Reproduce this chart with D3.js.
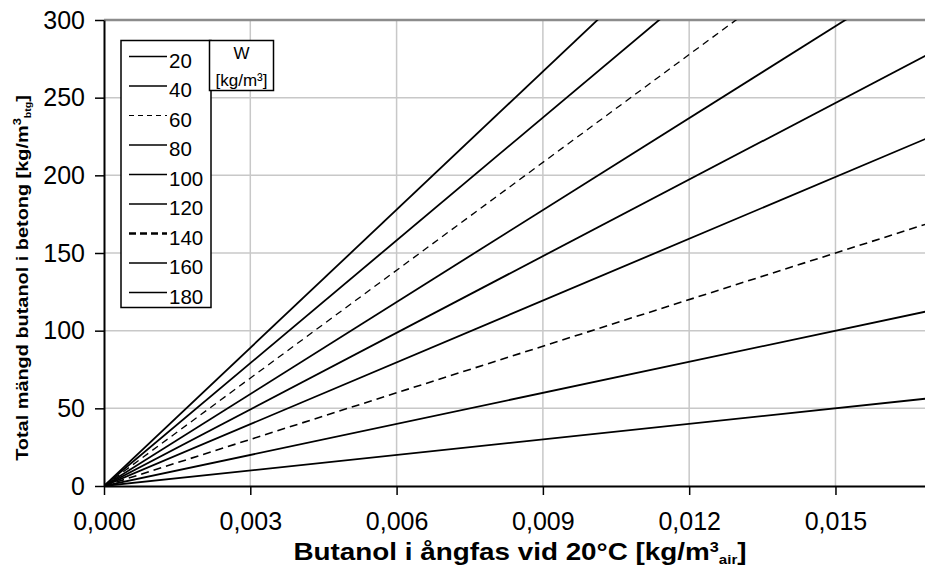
<!DOCTYPE html>
<html>
<head>
<meta charset="utf-8">
<script src="https://cdn.jsdelivr.net/npm/d3@7"></script>
<style>
  body { margin: 0; background: #fff; }
  svg { font-family: Arial, "Liberation Sans", sans-serif; }
</style>
</head>
<body>
<div id="chart"></div>
<script>
// x positions where each series is read (kg/m3 air)
const butanolAir = [0, 0.017];
// water content W, kg/m3
const waterContents = [20, 40, 60, 80, 100, 120, 140, 160, 180];
// total butanol in concrete at each x position, one row per W
const butanolTotal = [
    [0, 56.7],
    [0, 113.3],
    [0, 170.0],
    [0, 225.5],
    [0, 279.5],
    [0, 335.5],
    [0, 393.5],
    [0, 448.0],
    [0, 504.0]
];
const xTicks = [0, 0.003, 0.006, 0.009, 0.012, 0.015];
const yTicks = [0, 50, 100, 150, 200, 250, 300];

const width = 925, height = 569;
const margin = { top: 20, left: 104, bottom: 486 };

const svg = d3.select("#chart").append("svg")
    .attr("width", width)
    .attr("height", height);

const x = d3.scaleLinear().domain([0, 0.017]).range([margin.left, 933]);
const y = d3.scaleLinear().domain([0, 300]).range([margin.bottom, margin.top]);

const locale = d3.formatLocale({ decimal: ",", thousands: " ", grouping: [3], currency: ["", ""] });
const fmt = locale.format(".3f");

// grid
svg.append("g")
    .selectAll("line.hgrid")
    .data(yTicks.filter(d => d > 0 && d < 300))
    .enter().append("line")
    .attr("x1", margin.left).attr("x2", width)
    .attr("y1", d => y(d)).attr("y2", d => y(d))
    .attr("stroke", "#c8c8c8").attr("stroke-width", 1.5);

svg.append("g")
    .selectAll("line.vgrid")
    .data(xTicks.filter(d => d > 0))
    .enter().append("line")
    .attr("x1", d => x(d)).attr("x2", d => x(d))
    .attr("y1", margin.top).attr("y2", margin.bottom)
    .attr("stroke", "#c8c8c8").attr("stroke-width", 1.5);

svg.append("line")
    .attr("x1", margin.left).attr("x2", width)
    .attr("y1", y(300)).attr("y2", y(300))
    .attr("stroke", "#8c8c8c").attr("stroke-width", 2.5);

// series
svg.append("clipPath").attr("id", "plot-clip")
    .append("rect")
    .attr("x", margin.left).attr("y", margin.top)
    .attr("width", width - margin.left).attr("height", margin.bottom - margin.top);

const dashFor = w => w === 60 ? "5,4" : (w === 140 ? "7,4" : null);

const line = d3.line()
    .x((d, i) => x(butanolAir[i]))
    .y(d => y(d));

svg.append("g")
    .attr("clip-path", "url(#plot-clip)")
    .selectAll("path")
    .data(butanolTotal)
    .enter().append("path")
    .attr("d", line)
    .attr("fill", "none")
    .attr("stroke", "#000")
    .attr("stroke-width", (d, i) => waterContents[i] === 60 ? 1.6 : (waterContents[i] === 140 ? 1.3 : 1.8))
    .attr("stroke-dasharray", (d, i) => waterContents[i] === 60 ? "8,5" : (waterContents[i] === 140 ? "7,5" : null));

// axes
const yAxis = svg.append("g")
    .attr("transform", `translate(${margin.left},0)`)
    .call(d3.axisLeft(y).tickValues(yTicks).tickSize(9).tickPadding(10).tickSizeOuter(0));
yAxis.select(".domain").attr("stroke-width", 2);
yAxis.selectAll(".tick line").attr("stroke-width", 1.5);
yAxis.selectAll("text").attr("font-size", 25).attr("fill", "#000");

const xAxis = svg.append("g")
    .attr("transform", `translate(0,${margin.bottom})`)
    .call(d3.axisBottom(x).tickValues(xTicks).tickFormat(fmt).tickSize(9).tickPadding(17).tickSizeOuter(0));
xAxis.select(".domain").attr("stroke-width", 2);
xAxis.selectAll(".tick line").attr("stroke-width", 1.5);
xAxis.selectAll("text").attr("font-size", 25).attr("fill", "#000");

// axis titles
const xt = svg.append("text")
    .attr("transform", "translate(520,560) scale(1.16,1)")
    .attr("text-anchor", "middle")
    .attr("font-size", 24).attr("font-weight", "bold");
xt.append("tspan").text("Butanol i ångfas vid 20°C [kg/m");
xt.append("tspan").text("3").attr("font-size", 14).attr("dy", -8);
xt.append("tspan").text("air").attr("font-size", 13).attr("dy", 12);
xt.append("tspan").text("]").attr("dy", -4);

const yt = svg.append("text")
    .attr("transform", "translate(28,278) rotate(-90) scale(1.17,1)")
    .attr("text-anchor", "middle")
    .attr("font-size", 17).attr("font-weight", "bold");
yt.append("tspan").text("Total mängd butanol i betong [kg/m");
yt.append("tspan").text("3").attr("font-size", 11).attr("dy", -7);
yt.append("tspan").text("btg").attr("font-size", 9).attr("dy", 10);
yt.append("tspan").text("]").attr("dy", -3);

// legend
const legend = svg.append("g");
legend.append("rect")
    .attr("x", 121).attr("y", 40.5).attr("width", 90).attr("height", 267)
    .attr("fill", "#fff").attr("stroke", "#000").attr("stroke-width", 1.5);

const rows = legend.selectAll("g.row")
    .data(waterContents)
    .enter().append("g")
    .attr("transform", (d, i) => `translate(0,${56.5 + i * 29.5})`);
rows.append("line")
    .attr("x1", 129).attr("x2", 167)
    .attr("stroke", "#000")
    .attr("stroke-width", d => d === 140 ? 2.4 : (d === 60 ? 1 : 1.6))
    .attr("stroke-dasharray", d => dashFor(d));
rows.append("text")
    .attr("x", 169).attr("y", 11)
    .attr("font-size", 20.5)
    .text(d => d);

legend.append("rect")
    .attr("x", 209.5).attr("y", 40.5).attr("width", 64).attr("height", 50)
    .attr("fill", "#fff").attr("stroke", "#000").attr("stroke-width", 1.5);
legend.append("text")
    .attr("x", 241.5).attr("y", 59).attr("text-anchor", "middle")
    .attr("font-size", 17).text("W");
legend.append("text")
    .attr("x", 241.5).attr("y", 86).attr("text-anchor", "middle")
    .attr("font-size", 17).text("[kg/m³]");
</script>
</body>
</html>
